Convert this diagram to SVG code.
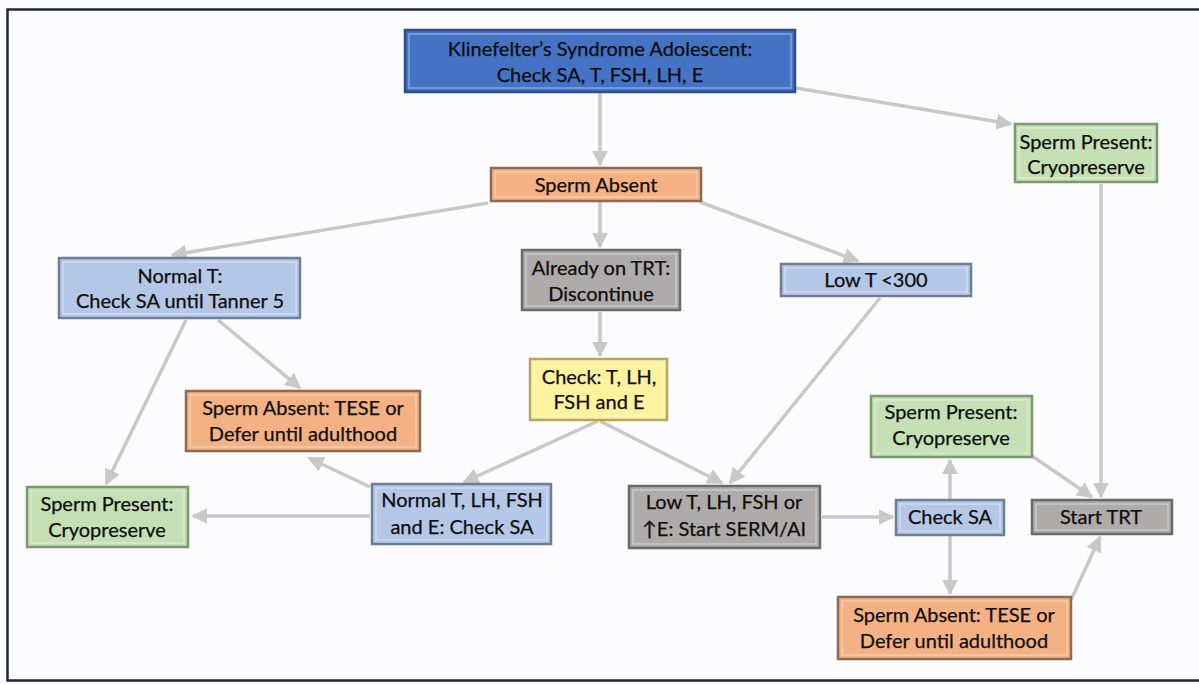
<svg xmlns="http://www.w3.org/2000/svg" width="1199" height="684" viewBox="0 0 1199 684">
<defs>
<style>
.t{font-family:Lato,"Open Sans","Liberation Sans",sans-serif;font-size:20px;fill:#0d0d0d;text-anchor:middle;stroke:#0d0d0d;stroke-width:0.25}
.c{fill:none;stroke:#C8C8C8;stroke-width:3.5;marker-end:url(#ah)}
.in{fill:none;stroke:#ffffff;stroke-opacity:0.35;stroke-width:1.5}
.blue{fill:#4472C4;stroke:#2E4D85;stroke-width:2.5}
.or{fill:#F4B183;stroke:#8E6A52;stroke-width:2.5}
.gr{fill:#C5E0B4;stroke:#7C9870;stroke-width:2.5}
.lb{fill:#B4C7E7;stroke:#6E7E98;stroke-width:2.5}
.gy{fill:#AFABAB;stroke:#6A6A6A;stroke-width:2.5}
.ye{fill:#FFF29E;stroke:#B5A65E;stroke-width:2.5}
</style>
<marker id="ah" viewBox="0 0 10 10" refX="9" refY="5" markerWidth="4.6" markerHeight="4.6" orient="auto" markerUnits="strokeWidth">
<path d="M0,0 L10,5 L0,10 Z" fill="#C8C8C8"/>
</marker>
</defs>
<rect x="0" y="0" width="1199" height="684" fill="#FCFCFE"/>
<path d="M1199,9.5 L7.5,9.5 L7.5,680.5 L1199,680.5" fill="none" stroke="#1E2A2A" stroke-width="2.5"/>

<g id="connectors">
<line class="c" x1="600" y1="93" x2="600" y2="165"/>
<line class="c" x1="796" y1="88" x2="1011" y2="124"/>
<line class="c" x1="488" y1="203" x2="172" y2="255"/>
<line class="c" x1="600" y1="202" x2="600" y2="247"/>
<line class="c" x1="700" y1="202" x2="858" y2="261"/>
<line class="c" x1="186" y1="320" x2="106" y2="484"/>
<line class="c" x1="218" y1="320" x2="300" y2="388"/>
<line class="c" x1="600" y1="312" x2="600" y2="356"/>
<line class="c" x1="598" y1="421" x2="464" y2="482"/>
<line class="c" x1="600" y1="421" x2="722" y2="483"/>
<line class="c" x1="880" y1="298" x2="730" y2="483"/>
<line class="c" x1="370" y1="516" x2="193" y2="516"/>
<line class="c" x1="370" y1="487" x2="309" y2="458"/>
<line class="c" x1="822" y1="517" x2="893" y2="517"/>
<line class="c" x1="950" y1="499" x2="950" y2="460"/>
<line class="c" x1="950" y1="536" x2="950" y2="594"/>
<line class="c" x1="1101" y1="184" x2="1101" y2="497"/>
<line class="c" x1="1032" y1="456" x2="1092" y2="497"/>
<line class="c" x1="1071" y1="600" x2="1100" y2="537"/>
</g>

<g id="n-top">
<rect class="blue" x="405" y="30" width="390" height="62"/>
<rect class="in" x="409" y="34" width="382" height="54"/>
<text class="t" x="600" y="56">Klinefelter’s Syndrome Adolescent:</text>
<text class="t" x="600" y="82">Check SA, T, FSH, LH, E</text>
</g>
<g id="n-absent">
<rect class="or" x="491" y="168" width="210" height="33"/>
<rect class="in" x="495" y="172" width="202" height="25"/>
<text class="t" x="596" y="192">Sperm Absent</text>
</g>
<g id="n-present-top">
<rect class="gr" x="1015" y="124" width="142" height="58"/>
<rect class="in" x="1019" y="128" width="134" height="50"/>
<text class="t" x="1086" y="149">Sperm Present:</text>
<text class="t" x="1086" y="174">Cryopreserve</text>
</g>
<g id="n-normalT">
<rect class="lb" x="59" y="258" width="241" height="60"/>
<rect class="in" x="63" y="262" width="233" height="52"/>
<text class="t" x="180" y="283">Normal T:</text>
<text class="t" x="180" y="308">Check SA until Tanner 5</text>
</g>
<g id="n-trt">
<rect class="gy" x="522" y="250" width="158" height="60"/>
<rect class="in" x="526" y="254" width="150" height="52"/>
<text class="t" x="601" y="275">Already on TRT:</text>
<text class="t" x="601" y="301">Discontinue</text>
</g>
<g id="n-lowT">
<rect class="lb" x="781" y="264" width="190" height="32"/>
<rect class="in" x="785" y="268" width="182" height="24"/>
<text class="t" x="876" y="287">Low T &lt;300</text>
</g>
<g id="n-check">
<rect class="ye" x="530" y="359" width="137" height="61"/>
<rect class="in" x="534" y="363" width="129" height="53"/>
<text class="t" x="599" y="384">Check: T, LH,</text>
<text class="t" x="599" y="409">FSH and E</text>
</g>
<g id="n-absent-left">
<rect class="or" x="186" y="391" width="234" height="60"/>
<rect class="in" x="190" y="395" width="226" height="52"/>
<text class="t" x="303" y="415">Sperm Absent: TESE or</text>
<text class="t" x="303" y="441">Defer until adulthood</text>
</g>
<g id="n-present-mid">
<rect class="gr" x="871" y="396" width="161" height="61"/>
<rect class="in" x="875" y="400" width="153" height="53"/>
<text class="t" x="951" y="419">Sperm Present:</text>
<text class="t" x="951" y="445">Cryopreserve</text>
</g>
<g id="n-present-left">
<rect class="gr" x="27" y="487" width="161" height="60"/>
<rect class="in" x="31" y="491" width="153" height="52"/>
<text class="t" x="107" y="511">Sperm Present:</text>
<text class="t" x="107" y="537">Cryopreserve</text>
</g>
<g id="n-normalLH">
<rect class="lb" x="372" y="484" width="179" height="60"/>
<rect class="in" x="376" y="488" width="171" height="52"/>
<text class="t" x="462" y="507">Normal T, LH, FSH</text>
<text class="t" x="462" y="534">and E: Check SA</text>
</g>
<g id="n-lowLH">
<rect class="gy" x="629" y="486" width="191" height="62"/>
<rect class="in" x="633" y="490" width="183" height="54"/>
<text class="t" x="724" y="509">Low T, LH, FSH or</text>
<text class="t" x="724" y="536">↑E: Start SERM/AI</text>
</g>
<g id="n-checkSA">
<rect class="lb" x="896" y="500" width="108" height="35"/>
<rect class="in" x="900" y="504" width="100" height="27"/>
<text class="t" x="950" y="524">Check SA</text>
</g>
<g id="n-startTRT">
<rect class="gy" x="1032" y="500" width="140" height="34"/>
<rect class="in" x="1036" y="504" width="132" height="26"/>
<text class="t" x="1101" y="524">Start TRT</text>
</g>
<g id="n-absent-bottom">
<rect class="or" x="838" y="597" width="233" height="62"/>
<rect class="in" x="842" y="601" width="225" height="54"/>
<text class="t" x="954" y="622">Sperm Absent: TESE or</text>
<text class="t" x="954" y="648">Defer until adulthood</text>
</g>
</svg>
